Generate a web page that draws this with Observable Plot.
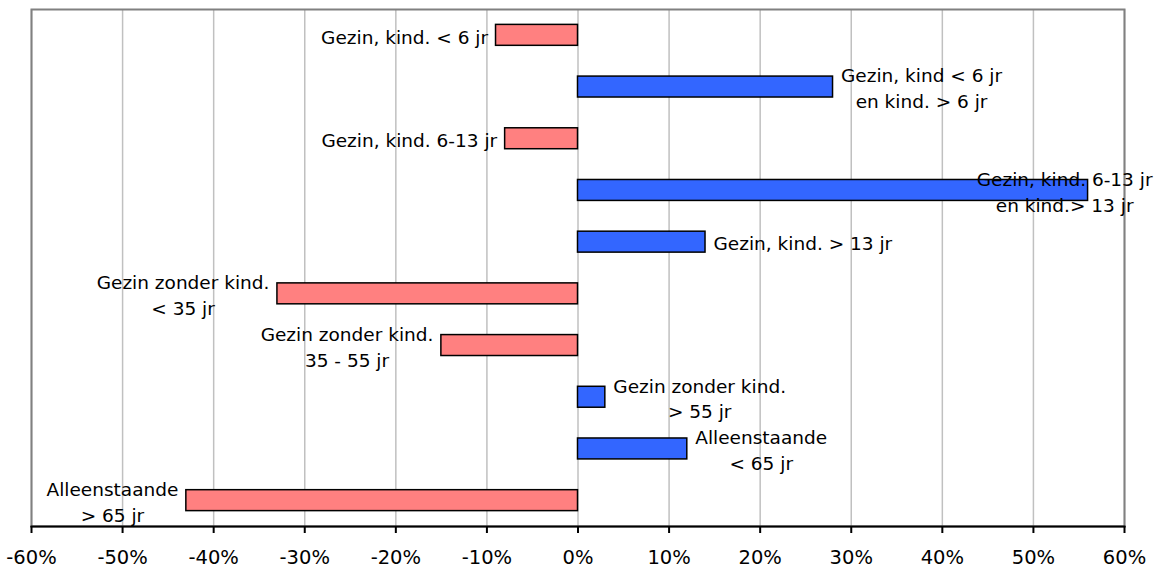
<!DOCTYPE html>
<html>
<head>
<meta charset="utf-8">
<script src="https://cdn.jsdelivr.net/npm/d3@7"></script>
<script src="https://cdn.jsdelivr.net/npm/@observablehq/plot@0.6"></script>
<style>
  html, body { margin: 0; padding: 0; background: #fff; }
  #chart { width: 1163px; height: 569px; }
</style>
</head>
<body>
<div id="chart"></div>
<script>
// ---- data ----
const categories = [
  "Gezin, kind. < 6 jr",
  "Gezin, kind < 6 jr\nen kind. > 6 jr",
  "Gezin, kind. 6-13 jr",
  "Gezin, kind. 6-13 jr\nen kind.> 13 jr",
  "Gezin, kind. > 13 jr",
  "Gezin zonder kind.\n< 35 jr",
  "Gezin zonder kind.\n35 - 55 jr",
  "Gezin zonder kind.\n> 55 jr",
  "Alleenstaande\n< 65 jr",
  "Alleenstaande\n> 65 jr"
];
const values = [-9, 28, -8, 56, 14, -33, -15, 3, 12, -43];
const tickValues = [-60, -50, -40, -30, -20, -10, 0, 10, 20, 30, 40, 50, 60];

// ---- layout ----
const W = 1163, H = 569;
const mL = 31, mR = 39, mT = 9, mB = 43;
const labelFont = 18.5, tickFont = 19.5, fontFamily = "DejaVu Sans";
const xMin = -60, xMax = 60;

const data = categories.map((c, i) => ({cat: c, value: values[i]}));

// measure label blocks to place them just outside the bar end
const ctx = document.createElement("canvas").getContext("2d");
ctx.font = `${labelFont}px "${fontFamily}"`;
const pxPer = (W - mL - mR) / (xMax - xMin);
const toPx = v => mL + (v - xMin) * pxPer;
const toVal = px => xMin + (px - mL) / pxPer;
const gap = 8;
const labels = data.map(d => {
  const bw = d3.max(d.cat.split("\n"), s => ctx.measureText(s).width);
  const end = toPx(d.value);
  let cx;
  if (d.value >= 0) {
    cx = end + gap + bw / 2;
    if (cx + bw / 2 > W - 11) cx = W - 11 - bw / 2;
  } else {
    cx = end - gap - bw / 2;
  }
  return {cat: d.cat, lx: toVal(cx)};
});

const plot = Plot.plot({
  width: W,
  height: H,
  marginLeft: mL,
  marginRight: mR,
  marginTop: mT,
  marginBottom: mB,
  style: {fontFamily: fontFamily, background: "#fff", color: "#000"},
  x: {domain: [xMin, xMax]},
  y: {domain: categories, paddingInner: 0.595, paddingOuter: 0.2975, round: false, axis: null},
  marks: [
    Plot.ruleX(tickValues, {stroke: "#c0c0c0", strokeWidth: 1.5}),
    Plot.frame({stroke: "#808080", strokeWidth: 2}),
    Plot.barX(data, {
      x: "value", y: "cat",
      fill: d => d.value < 0 ? "#FF8080" : "#3366FF",
      stroke: "#000", strokeWidth: 1.5
    }),
    Plot.text(labels, {
      x: "lx", y: "cat", text: "cat",
      textAnchor: "middle", lineAnchor: "middle", lineHeight: 1.4,
      fontSize: labelFont, fill: "#000"
    }),
    Plot.frame({anchor: "bottom", stroke: "#000", strokeWidth: 2}),
    Plot.axisX({
      ticks: tickValues,
      tickFormat: d => d + "%",
      tickSize: 7,
      tickPadding: 17,
      strokeWidth: 2,
      fontSize: tickFont,
      label: null,
      stroke: "#000"
    })
  ]
});
document.getElementById("chart").appendChild(plot);
</script>
</body>
</html>
